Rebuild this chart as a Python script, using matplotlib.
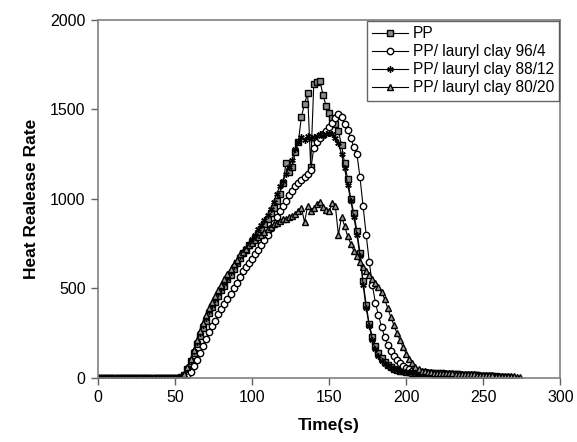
import numpy as np
import matplotlib
matplotlib.use('Agg')
from matplotlib import pyplot as plt

plt.rcParams['font.family'] = ['Liberation Sans', 'DejaVu Sans']

STEP = 2  # one reading every 2 s, starting at t = 0

# heat release rate per sample
pp = [0, 2, 0, 1, 0, 2, 0, 1, 0, 0, 2, 0, 1, 0, 0, 2, 1, 0, 0, 1, 0, 2, 0, 1, 0, 0, 2, 4,
      15, 50, 95, 140, 190, 235, 280, 320, 360, 395, 425, 460, 490, 515, 550, 575,
      610, 640, 670, 700, 715, 740, 760, 780, 805, 830, 860, 885, 920, 950, 990, 1030,
      1090, 1200, 1150, 1180, 1260, 1320, 1460, 1530, 1590, 1180, 1640, 1655, 1660,
      1580, 1520, 1480, 1450, 1420, 1380, 1300, 1200, 1110, 1000, 920, 820, 700, 540,
      410, 300, 230, 180, 140, 110, 88, 72, 60, 52, 46, 40, 36, 33, 31, 30, 29, 28, 27,
      26, 26, 25, 24, 24, 23, 22, 22, 21, 20, 20, 19, 18, 18, 17, 16, 15, 14, 13, 12,
      11, 10, 9, 8, 7, 6, 5, 4]
clay_96_4 = [1, 0, 2, 0, 1, 0, 0, 2, 0, 1, 0, 0, 2, 0, 1, 0, 0, 1, 0, 2, 0, 0, 1, 0, 2, 0, 1, 1,
             3, 15, 35, 65, 100, 140, 180, 220, 255, 290, 320, 355, 385, 415, 440, 470,
             500, 530, 565, 600, 620, 640, 665, 690, 715, 745, 770, 800, 835, 865, 900, 930,
             960, 990, 1020, 1045, 1070, 1090, 1105, 1120, 1140, 1160, 1285, 1320, 1340,
             1365, 1380, 1400, 1425, 1450, 1475, 1460, 1420, 1385, 1340, 1290, 1250, 1120,
             960, 800, 650, 520, 420, 350, 285, 230, 185, 150, 122, 100, 82, 68, 56, 47, 40,
             37, 35, 33, 31, 30, 29, 28, 27, 26, 25, 24, 23, 22, 21, 20, 19, 18, 17, 16, 15,
             14, 12, 11, 10, 9, 8, 7, 6, 5]
clay_88_12 = [0, 1, 0, 2, 0, 0, 1, 0, 2, 0, 0, 1, 0, 2, 0, 1, 0, 0, 2, 0, 1, 0, 0, 2, 0, 1, 0, 3,
              15, 55, 100, 150, 200, 250, 295, 335, 375, 410, 440, 475, 505, 530, 560, 590,
              625, 650, 680, 705, 725, 750, 775, 800, 830, 855, 880, 910, 945, 985, 1030, 1070,
              1100, 1140, 1180, 1220, 1280, 1320, 1345, 1330, 1350, 1335, 1345, 1350, 1360,
              1350, 1365, 1370, 1360, 1340, 1310, 1250, 1170, 1080, 990, 900, 800, 680, 520,
              390, 290, 210, 160, 120, 95, 78, 65, 56, 49, 44, 40, 37, 34, 32, 31, 30, 29, 28,
              27, 26, 25, 24, 23, 22, 21, 20, 19, 18, 17, 16, 15, 14, 13, 12, 11, 10, 9, 8, 7]
clay_80_20 = [0, 0, 1, 0, 0, 2, 0, 0, 1, 0, 2, 0, 0, 1, 0, 0, 2, 0, 1, 0, 0, 2, 0, 0, 1, 0, 2, 5,
              20, 60, 105, 155, 210, 260, 305, 350, 390, 425, 455, 490, 520, 550, 580, 610,
              635, 660, 690, 705, 720, 740, 755, 770, 785, 800, 815, 830, 845, 860, 865, 875,
              885, 890, 900, 905, 915, 930, 950, 870, 960, 935, 950, 970, 980, 955, 940, 930,
              975, 960, 800, 900, 850, 790, 750, 710, 680, 645, 620, 595, 575, 555, 530, 510,
              480, 440, 390, 340, 295, 250, 210, 170, 135, 105, 82, 62, 48, 40, 36, 33, 31, 30,
              29, 28, 27, 27, 26, 25, 24, 24, 23, 22, 21, 20, 20, 19, 18, 17, 16, 15, 14, 13,
              12, 11, 10, 9, 8, 8, 7, 7]

series = [
    ('PP', pp, dict(marker='s', mfc='#8c8c8c')),
    ('PP/ lauryl clay 96/4', clay_96_4, dict(marker='o', mfc='white')),
    ('PP/ lauryl clay 88/12', clay_88_12, dict(marker=(6, 2, 0), mfc='black')),
    ('PP/ lauryl clay 80/20', clay_80_20, dict(marker='^', mfc='#9a9a9a')),
]

fig = plt.figure(figsize=(5.77, 4.42), dpi=100)
ax = fig.add_axes([0.170, 0.145, 0.801, 0.810])

for name, vals, style in series:
    t = np.arange(len(vals)) * STEP
    ax.plot(t, vals, color='black', lw=0.8, ms=4.6, mec='black', mew=1.0,
            label=name, **style)

ax.set_xlim(0, 300)
ax.set_ylim(0, 2000)
ax.set_xticks(np.arange(0, 301, 50))
ax.set_yticks(np.arange(0, 2001, 500))
ax.tick_params(direction='out', length=5, width=1, color='#606060',
               labelsize=11.5, pad=4)
for sp in ax.spines.values():
    sp.set_color('#808080')
    sp.set_linewidth(1.2)

ax.set_xlabel('Time(s)', fontsize=12.5, fontweight='bold', labelpad=9)
ax.set_ylabel('Heat Realease Rate', fontsize=12.5, fontweight='bold', labelpad=8)

leg = ax.legend(loc='upper right', fontsize=11.2, frameon=True, fancybox=False,
                edgecolor='#404040', borderaxespad=0.05, handlelength=2.3,
                handletextpad=0.3, labelspacing=0.2, borderpad=0.35)
leg.get_frame().set_linewidth(1.0)

fig.savefig('out.png', dpi=100)
